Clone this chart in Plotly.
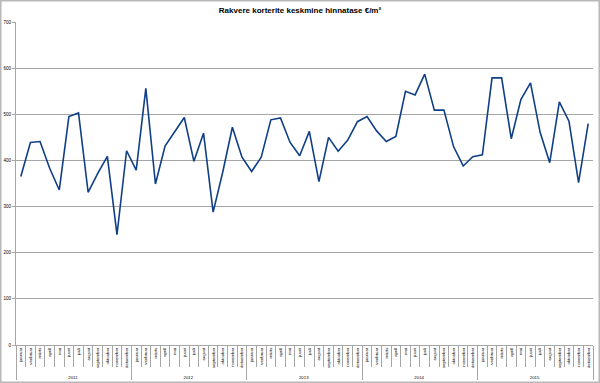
import plotly.graph_objects as go

years = ["2011", "2012", "2013", "2014", "2015"]
months = ["jaanuar", "veebruar", "märts", "aprill", "mai", "juuni", "juuli",
          "august", "september", "oktoober", "november", "detsember"]
prices = [
    365, 439, 441, 383, 336, 495, 503, 331, 372, 409, 239, 421,
    379, 556, 349, 431, 462, 493, 398, 459, 288, 375, 472, 407,
    376, 407, 488, 492, 439, 410, 463, 354, 450, 420, 444, 484,
    495, 464, 441, 452, 550, 542, 587, 509, 509, 430, 388, 408,
    412, 579, 579, 447, 532, 568, 461, 395, 527, 485, 352, 480,
]
y_ticks = [0, 100, 200, 300, 400, 500, 600, 700]

x_year = [y for y in years for _ in months]
x_month = [m for _ in years for m in months]

W, H = 600, 383
ml, mr, mt, mb = 16, 7, 22, 38
pw, ph = W - ml - mr, H - mt - mb

fig = go.Figure(go.Scatter(
    x=[x_year, x_month], y=prices, mode="lines",
    line=dict(color="#103f85", width=1.6), hoverinfo="y",
))

fig.update_layout(
    width=W, height=H,
    margin=dict(l=ml, r=mr, t=mt, b=mb, autoexpand=False),
    paper_bgcolor="white", plot_bgcolor="white",
    showlegend=False,
    font=dict(family="Liberation Sans", color="#000000"),
    title=dict(text="<b>Rakvere korterite keskmine hinnatase €/m²</b>",
               x=0.5, xanchor="center", y=1 - 10 / H, yanchor="middle",
               font=dict(size=8, family="Liberation Sans", color="#000")),
    shapes=[dict(type="rect", xref="paper", yref="paper",
                 x0=-(ml - 0.75) / pw, x1=1 + (mr - 0.75) / pw,
                 y0=-(mb - 0.75) / ph, y1=1 + (mt - 0.75) / ph,
                 line=dict(color="#b8b8b8", width=1.5))],
)
fig.update_yaxes(
    range=[0, 700], tickvals=y_ticks, showgrid=True, gridcolor="#a6a6a6",
    gridwidth=1, zeroline=False, showline=True, linecolor="#a6a6a6",
    ticks="outside", ticklen=3, tickcolor="#a6a6a6", automargin=False,
    tickfont=dict(size=4.5, color="#000"),
)
fig.update_xaxes(
    type="multicategory", range=[-0.5, 59.5], showgrid=False,
    showline=True, linecolor="#a6a6a6", ticks="outside", ticklen=21,
    tickcolor="#a6a6a6", tickson="boundaries", tickangle=-90,
    showdividers=True, dividercolor="#a6a6a6", dividerwidth=1,
    automargin=False,
    tickfont=dict(size=4.3, color="#000"),
)

fig.write_html("out.html",
               config={"displayModeBar": False},
               post_script="document.body.style.margin='0px';"
                           "document.body.style.overflow='hidden';")
